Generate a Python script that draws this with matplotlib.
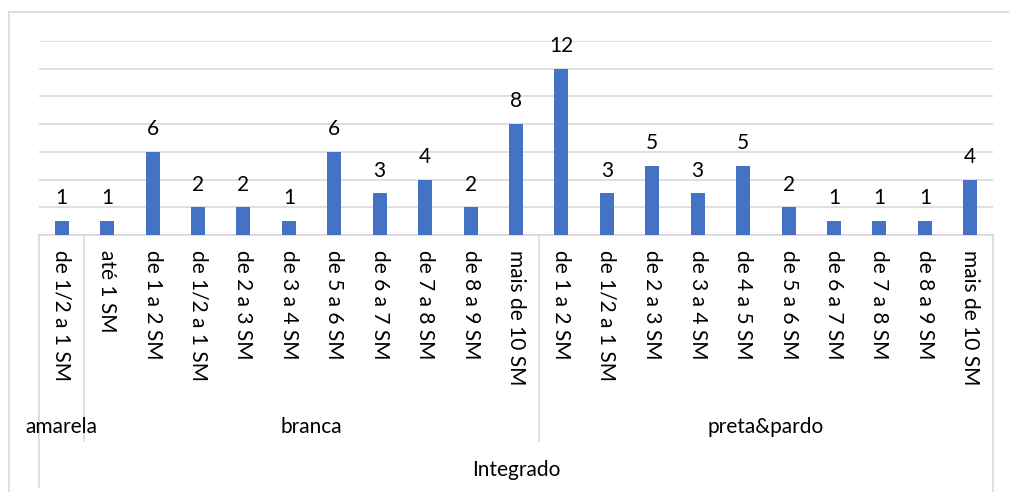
import matplotlib
matplotlib.use("Agg")
import matplotlib.pyplot as plt
from matplotlib.lines import Line2D
import matplotlib.transforms as mtransforms

plt.rcParams['font.family'] = ['Lato', 'DejaVu Sans']

groups = ["amarela", "branca", "preta&pardo"]
amarela_cats = ["de 1/2 a 1 SM"]
branca_cats = ["até 1 SM", "de 1 a 2 SM", "de 1/2 a 1 SM", "de 2 a 3 SM", "de 3 a 4 SM",
               "de 5 a 6 SM", "de 6 a 7 SM", "de 7 a 8 SM", "de 8 a 9 SM", "mais de 10 SM"]
preta_cats = ["de 1 a 2 SM", "de 1/2 a 1 SM", "de 2 a 3 SM", "de 3 a 4 SM", "de 4 a 5 SM",
              "de 5 a 6 SM", "de 6 a 7 SM", "de 7 a 8 SM", "de 8 a 9 SM", "mais de 10 SM"]
amarela_vals = [1]
branca_vals = [1, 6, 2, 2, 1, 6, 3, 4, 2, 8]
preta_vals = [12, 3, 5, 3, 5, 2, 1, 1, 1, 4]
top_label = "Integrado"

group_cats = [amarela_cats, branca_cats, preta_cats]
group_vals = [amarela_vals, branca_vals, preta_vals]
cats = amarela_cats + branca_cats + preta_cats
vals = amarela_vals + branca_vals + preta_vals

W, H = 1009, 492
fig = plt.figure(figsize=(W / 100, H / 100), dpi=100)
fig.patch.set_facecolor("white")

def fx(px):
    return px / W

def fy(py):
    return 1 - py / H

left_px, right_px, top_px, bot_px = 39, 993, 41, 235
ax = fig.add_axes([fx(left_px), fy(bot_px), fx(right_px - left_px), (bot_px - top_px) / H])

grid_c = "#d9d9d9"
n = len(cats)
x = list(range(n))
ax.bar(x, vals, width=0.31, color="#4472C4", zorder=3)
ax.set_xlim(-0.5, n - 0.5)
ax.set_ylim(0, 14)
ax.set_yticks(range(0, 15, 2))
ax.yaxis.grid(True, color=grid_c, linewidth=1.2, zorder=0)
ax.tick_params(axis='y', left=False, labelleft=False)
ax.tick_params(axis='x', bottom=False, labelbottom=False)
for s in ["left", "right", "top"]:
    ax.spines[s].set_visible(False)
ax.spines["bottom"].set_color(grid_c)
ax.spines["bottom"].set_linewidth(1.2)

fs = 15
for xi, v in zip(x, vals):
    ax.annotate(str(v), (xi, v), xytext=(0, 12), textcoords="offset points",
                ha="center", va="baseline", fontsize=fs, color="#000000")

# category tick labels (level 1)
blend = mtransforms.blended_transform_factory(ax.transData, fig.transFigure)
for xi, c in zip(x, cats):
    fig.text(0, 0, c, transform=blend, rotation=270, ha="center", va="top",
             fontsize=fs, color="#000000", rotation_mode="default")
for t, xi in zip(fig.texts[-n:], x):
    t.set_position((xi, fy(250)))

# group boundaries
start = 0
bounds = [-0.5]
for gc in group_cats:
    start += len(gc)
    bounds.append(start - 0.5)

lines = []
for i, b in enumerate(bounds):
    if i == 0:
        y0, y1 = bot_px, 487
    elif i == len(bounds) - 1:
        y0, y1 = bot_px, 492
    else:
        y0, y1 = bot_px, 441
    lines.append(Line2D([b, b], [fy(y0), fy(y1)], transform=blend, color=grid_c, linewidth=1.2))

for i, g in enumerate(groups):
    cx = (bounds[i] + bounds[i + 1]) / 2
    fig.text(cx, fy(427), g, transform=blend, ha="center", va="center", fontsize=fs, color="#000000")

fig.text((bounds[0] + bounds[-1]) / 2, fy(470), top_label, transform=blend, ha="center", va="center",
         fontsize=fs, color="#000000")

# chart outer frame
lines.append(Line2D([fx(9), fx(9)], [fy(12), 0], transform=fig.transFigure, color=grid_c, linewidth=1.2))
lines.append(Line2D([fx(9), 1], [fy(12), fy(12)], transform=fig.transFigure, color=grid_c, linewidth=1.2))
for ln in lines:
    fig.add_artist(ln)

fig.savefig("out.png", dpi=100)
